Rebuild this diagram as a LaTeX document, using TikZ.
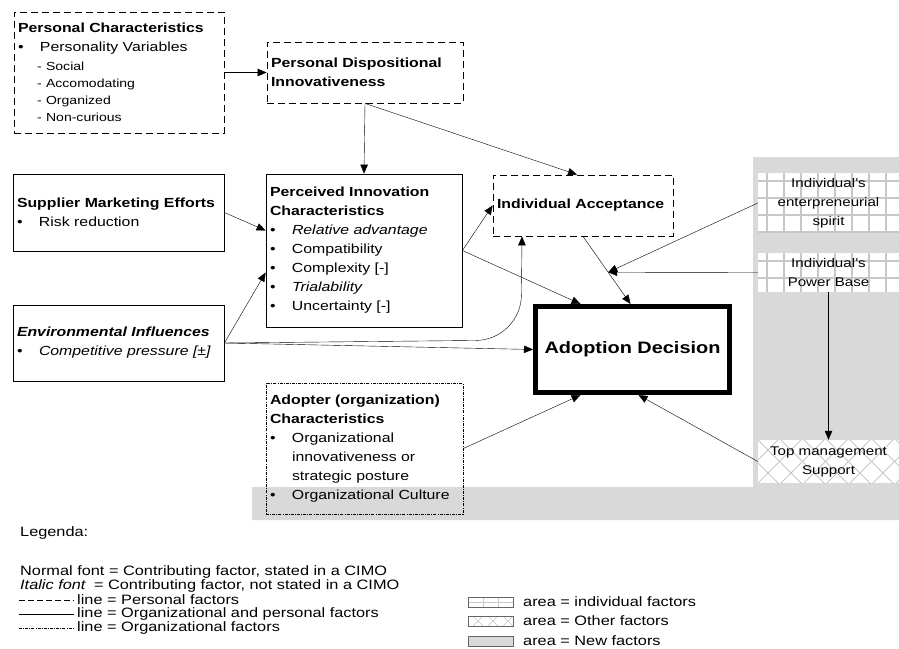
\documentclass[tikz,border=0pt]{standalone}
\usepackage{fontspec}
\setmainfont{Liberation Sans}[FakeStretch=1.2]
\usetikzlibrary{arrows.meta,calc}
\hyphenpenalty=10000

\newcommand{\itm}[1]{\makebox[22pt][l]{\textbullet}#1}
\newcommand{\subitm}[1]{\hspace*{19pt}{\fontsize{11.7}{17}\selectfont #1}}
\colorlet{newfact}{black!15}
\colorlet{patline}{black!22}

\tikzset{
  txt/.style={font=\fontsize{13.2}{19}\selectfont},
  box/.style={txt, draw, line width=0.8pt, inner xsep=4pt, inner ysep=0pt, align=left},
  persbox/.style={box, dash pattern=on 7pt off 4pt},
  orgbox/.style={box, dash pattern=on 3pt off 1.2pt on 0.8pt off 1.2pt},
  sidetxt/.style={font=\fontsize{12.6}{19}\selectfont, align=center, inner sep=0pt,
    fill=white, minimum width=141pt},
  indbox/.style={sidetxt,
    path picture={
      \foreach \gx in {9,26,...,145}
        \draw[patline, line width=1.4pt] ([xshift=\gx]path picture bounding box.north west)
          -- ([xshift=\gx]path picture bounding box.south west);
      \foreach \gy in {8,25,...,60}
        \draw[patline, line width=1.4pt] ([yshift=-\gy]path picture bounding box.north west)
          -- ([yshift=-\gy]path picture bounding box.north east);
    }},
  othbox/.style={sidetxt,
    path picture={
      \foreach \k in {-46,-23,...,150} {
        \draw[patline, line width=0.9pt] ([xshift=\k]path picture bounding box.north west) -- ++(46,46);
        \draw[patline, line width=0.9pt] ([xshift=\k]path picture bounding box.south west) -- ++(46,-46);
      }
    }},
  legtxt/.style={font=\fontsize{13.6}{14}\selectfont, anchor=west, inner sep=0pt}
}

\begin{document}
\begin{tikzpicture}[x=1pt,y=-1pt,>={Triangle[length=9pt,width=7.5pt]}]
  \useasboundingbox (0,0) rectangle (899,648);

  % new factors area
  \fill[newfact] (753,157) -- (899,157) -- (899,520) -- (252,520) -- (252,487)
    -- (753,487) -- cycle;

  % boxes
  \node[persbox, text width=202pt, minimum height=121pt] (pc) at (119,72.5)
    {\textbf{Personal Characteristics}\\
     \itm{Personality Variables}\\
     \subitm{- Social}\\[-2pt]
     \subitm{- Accomodating}\\[-2pt]
     \subitm{- Organized}\\[-2pt]
     \subitm{- Non-curious}};
  \node[persbox, text width=188pt, minimum height=61pt] (pdi) at (365,72.5)
    {\textbf{Personal Dispositional}\\ \textbf{Innovativeness}};
  \node[box, text width=203pt, minimum height=77pt] (sme) at (118.5,212.5)
    {\textbf{Supplier Marketing Efforts}\\ \itm{Risk reduction}};
  \node[box, text width=188pt, minimum height=153pt] (pic) at (364,250.5)
    {\textbf{Perceived Innovation}\\ \textbf{Characteristics}\\
     \itm{\textit{Relative advantage}}\\
     \itm{Compatibility}\\
     \itm{Complexity [-]}\\
     \itm{\textit{Trialability}}\\
     \itm{Uncertainty [-]}};
  \node[persbox, text width=172pt, minimum height=61pt] (ia) at (583,205.5)
    {\textbf{Individual Acceptance}};
  \node[box, text width=203pt, minimum height=76pt] (ei) at (118.5,343)
    {\textbf{\textit{Environmental Influences}}\\ \itm{\textit{Competitive pressure [±]}}};
  \node[draw, line width=5pt, minimum width=194pt, minimum height=86pt,
    font=\fontsize{16.6}{20}\selectfont\bfseries] (ad) at (632.5,349.5) {Adoption Decision};
  \node[orgbox, text width=189pt, minimum height=131pt] (adopt) at (364.5,448.5)
    {\textbf{Adopter (organization)}\\ \textbf{Characteristics}\\
     \itm{Organizational}\\
     \hspace*{22pt}innovativeness~or\\
     \hspace*{22pt}strategic~posture\\
     \itm{Organizational Culture}};

  \node[indbox, minimum height=60pt] (es) at (828.5,203)
    {Individual’s\\ enterpreneurial\\ spirit};
  \node[indbox, minimum height=39pt] (pb) at (828.5,272.5)
    {Individual’s\\ Power Base};
  \node[othbox, minimum height=43pt] (tm) at (828.5,461.5)
    {Top management\\ Support};

  % connectors
  \coordinate (bend) at (521,340);
  \coordinate (mid) at ($(ia.south)!0.53!([xshift=-2pt]ad.north)$);
  \draw[->] (pc.east) -- (pdi.west);
  \draw[->] (pdi.south) -- (pic.north);
  \draw[->] (pdi.south) -- ([xshift=-6pt]ia.north);
  \draw[->] (sme.east) -- ([yshift=20pt]pic.west);
  \draw[->] (ei.east) -- ([yshift=-22pt]pic.west);
  \draw[->] (ei.east) -- (ad.west);
  \draw[->, rounded corners=45pt] (ei.east) -- (bend) -- ([xshift=-61pt]ia.south);
  \draw[->] (pic.east) -- (ia.west);
  \draw[->] (pic.east) -- ([xshift=-52pt]ad.north);
  \draw[->] (ia.south) -- ([xshift=-2pt]ad.north);
  \draw[->] (es.west) -- (mid);
  \draw[->] (pb.west) -- (mid);
  \draw[->] (pb.south) -- (tm.north);
  \draw[->] (tm.west) -- ([xshift=6pt]ad.south);
  \draw[->] (adopt.east) -- ([xshift=-52pt]ad.south);

  % legend
  \node[legtxt] (lgh) at (20,533) {Legenda:};
  \node[legtxt] (lg1) at (20,572) {Normal font = Contributing factor, stated in a CIMO};
  \node[legtxt] (lg2) at (20,586) {\textit{Italic font}\hspace{8pt}= Contributing factor, not stated in a CIMO};
  \draw[dash pattern=on 6pt off 3pt] (19,600) -- (74,600)
    node[legtxt, right=3pt] (lg3) {line = Personal factors};
  \draw (19,614) -- (74,614)
    node[legtxt, right=3pt] (lg4) {line = Organizational and personal factors};
  \draw[dash pattern=on 3pt off 1.2pt on 0.8pt off 1.2pt] (19,628) -- (74,628)
    node[legtxt, right=3pt] (lg5) {line = Organizational factors};

  \fill[white] (468,597) rectangle (513,607);
  \draw[patline] (483,597) -- (483,607) (498,597) -- (498,607) (468,602) -- (513,602);
  \draw[black!60] (468,597) rectangle (513,607);
  \node[legtxt] (lg6) at (523,602) {area = individual factors};
  \begin{scope}
    \clip (468,616) rectangle (513,626);
    \fill[white] (468,616) rectangle (513,626);
    \foreach \k in {458,473,...,513}
      \draw[patline] (\k,616) -- ++(10,10) (\k,626) -- ++(10,-10);
  \end{scope}
  \draw[black!60] (468,616) rectangle (513,626);
  \node[legtxt] (lg7) at (523,621) {area = Other factors};
  \draw[black!60, fill=newfact] (468,636) rectangle (513,646);
  \node[legtxt] (lg8) at (523,641) {area = New factors};
\end{tikzpicture}
\end{document}
